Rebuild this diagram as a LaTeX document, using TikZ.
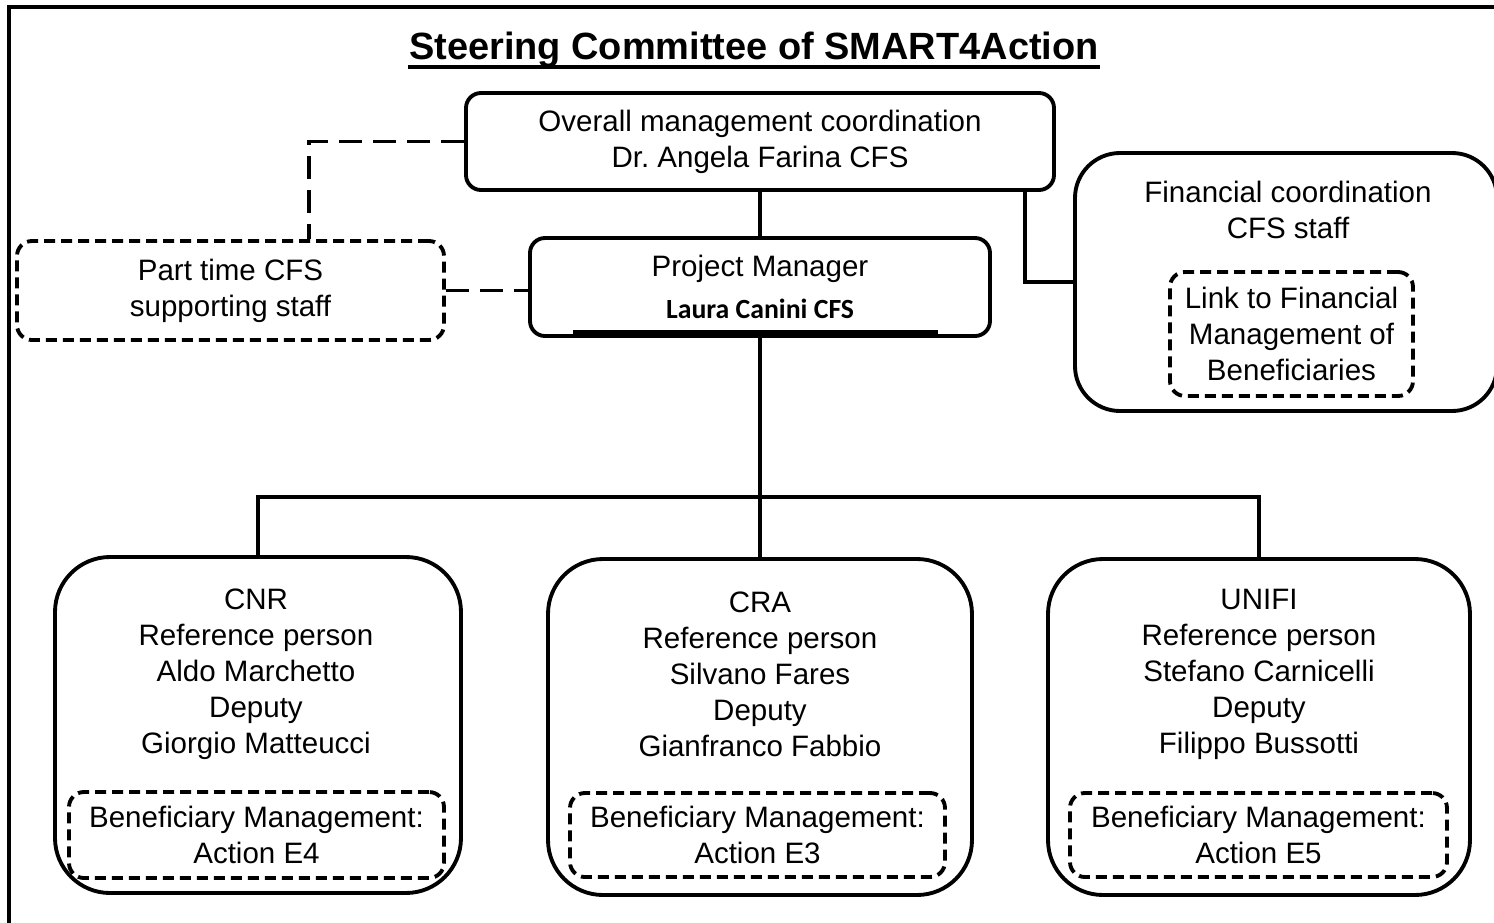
\documentclass[tikz,border=0pt]{standalone}
\usepackage{fontspec}
\setmainfont{Liberation Sans}
\newfontfamily\calfont{Carlito}
\usetikzlibrary{positioning}
\newcommand{\bodyfont}{\fontsize{8.4}{10.25}\selectfont}
\newcommand{\headfont}{\fontsize{10.8}{13}\selectfont\bfseries}
\tikzset{
  orgbox/.style={draw, line width=1.1pt, rounded corners=1.5mm, align=center, inner sep=0pt},
  unitbox/.style={draw, line width=1.1pt, rounded corners=5.5mm, inner sep=0pt},
  dashbox/.style={draw, line width=1.1pt, rounded corners=1.5mm, align=center, inner sep=0pt, dash pattern=on 1.1mm off 0.6mm},
  textblock/.style={align=center, inner sep=0pt},
  link/.style={line width=1pt},
  dashlink/.style={line width=1.1pt, dash pattern=on 2.3mm off 1.1mm}
}
\begin{document}
\begin{tikzpicture}[every node/.style={font=\bodyfont}]
  \useasboundingbox (0,0) rectangle (14.94,-9.23);
  \clip (0,0) rectangle (14.94,-9.23);
  \draw[line width=1.3pt] (0.09,-0.07) rectangle (15.4,-9.7);
  % title
  \node[inner sep=0pt, anchor=base, font=\headfont] (title) at (7.54,-0.59) {Steering Committee of SMART4Action};
  \draw[line width=0.9pt] ([yshift=-0.8mm]title.base west) -- ([yshift=-0.8mm]title.base east);
  % top level
  \node[orgbox, minimum width=5.88cm, minimum height=0.97cm] (overall) at (7.60,-1.415) {Overall management coordination\\Dr.\ Angela Farina CFS};
  \node[orgbox, minimum width=4.60cm, minimum height=0.98cm] (pm) at (7.60,-2.87) {Project Manager\\[1.6pt]{\calfont\bfseries\fontsize{7.9}{10.25}\selectfont Laura Canini CFS}};
  \draw[line width=1.2pt] (5.73,-3.32) -- (9.38,-3.32);
  \node[dashbox, minimum width=4.27cm, minimum height=0.99cm] (parttime) at (2.305,-2.905) {Part time CFS\\supporting staff};
  \node[unitbox, rounded corners=4.5mm, minimum width=4.22cm, minimum height=2.58cm] (fin) at (12.86,-2.82) {};
  \node[textblock] (fintext) at (12.88,-2.10) {Financial coordination\\CFS staff};
  \node[dashbox, minimum width=2.43cm, minimum height=1.24cm] (finlink) at (12.915,-3.34) {Link to Financial\\Management of\\Beneficiaries};
  % beneficiaries
  \node[unitbox, minimum width=4.06cm, minimum height=3.36cm] (cnr) at (2.58,-7.25) {};
  \node[textblock] (cnrtext) at (2.56,-6.74) {CNR\\Reference person\\Aldo Marchetto\\Deputy\\Giorgio Matteucci};
  \node[dashbox, minimum width=3.75cm, minimum height=0.86cm] (cnrben) at (2.565,-8.35) {Beneficiary Management:\\Action E4};
  \node[unitbox, minimum width=4.24cm, minimum height=3.36cm] (cra) at (7.60,-7.27) {};
  \node[textblock] (cratext) at (7.60,-6.74) {CRA\\Reference person\\Silvano Fares\\Deputy\\Gianfranco Fabbio};
  \node[dashbox, minimum width=3.75cm, minimum height=0.84cm] (craben) at (7.575,-8.35) {Beneficiary Management:\\Action E3};
  \node[unitbox, minimum width=4.22cm, minimum height=3.36cm] (unifi) at (12.59,-7.27) {};
  \node[textblock] (unifitext) at (12.59,-6.74) {UNIFI\\Reference person\\Stefano Carnicelli\\Deputy\\Filippo Bussotti};
  \node[dashbox, minimum width=3.77cm, minimum height=0.84cm] (unifiben) at (12.585,-8.35) {Beneficiary Management:\\Action E5};
  % connectors
  \coordinate (bus) at (7.60,-4.97);
  \draw[link] (overall.south) -- (pm.north);
  \draw[link] (pm.south) -- (cra.north);
  \draw[link] (cnr.north) -- (cnr.north |- bus) -- (unifi.north |- bus) -- (unifi.north);
  \draw[link] ([xshift=-3.1mm]overall.south east) |- (fin.west);
  \draw[dashlink] (overall.west) -| ([xshift=7.85mm]parttime.north);
  \draw[dashlink] (parttime.east) -- (parttime.east -| pm.west);
\end{tikzpicture}
\end{document}
